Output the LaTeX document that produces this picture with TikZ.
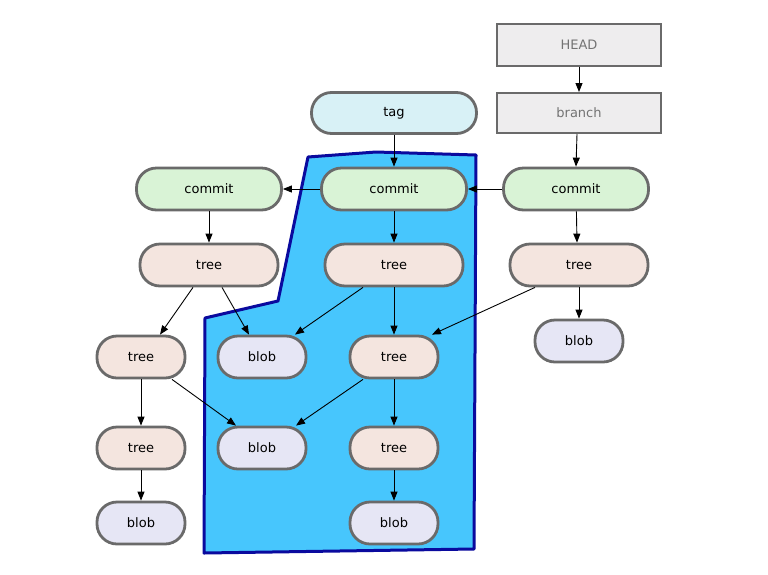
\documentclass[tikz,border=0pt]{standalone}
\usepackage{fontspec}
\setmainfont{DejaVu Sans}
\usetikzlibrary{arrows.meta}
\definecolor{cgreen}{HTML}{D9F3D6}
\definecolor{ctree}{HTML}{F4E5DF}
\definecolor{cblob}{HTML}{E6E6F5}
\definecolor{ctag}{HTML}{D8F1F6}
\definecolor{cref}{HTML}{EEEDEE}
\definecolor{cborder}{HTML}{6A6A6A}
\definecolor{cpoly}{HTML}{47C6FD}
\definecolor{cpolyb}{HTML}{0A0A9E}
\begin{document}
\begin{tikzpicture}[x=1pt,y=-1pt,
  obj/.style={draw=cborder,line width=2.8pt,rounded corners=20pt,font=\fontsize{13}{15}\selectfont,inner sep=0pt,anchor=center},
  refbox/.style={draw=cborder,line width=2pt,fill=cref,minimum width=164pt,minimum height=42pt,text=black!55,font=\fontsize{13}{15}\selectfont,inner sep=0pt},
  commitbox/.style={obj,fill=cgreen,minimum width=145pt,minimum height=42pt},
  bigtree/.style={obj,fill=ctree,minimum width=138pt,minimum height=42pt},
  smalltree/.style={obj,fill=ctree,minimum width=88pt,minimum height=42pt},
  blobbox/.style={obj,fill=cblob,minimum width=88pt,minimum height=42pt},
  tagbox/.style={obj,fill=ctag,minimum width=165pt,minimum height=41pt},
  arr/.style={-{Triangle[length=9pt,width=7pt]},line width=0.9pt,black}]
\useasboundingbox (0,0) rectangle (768,574);
\fill[white] (0,0) rectangle (768,574);
% highlighted region
\draw[fill=cpoly,draw=cpolyb,line width=3pt,line join=round]
  (308,157) -- (376,152) -- (476,155) -- (474,549) -- (204,553) -- (205,318) -- (278,301) -- cycle;
% nodes
\node[refbox] (head) at (579,44.5) {HEAD};
\node[refbox,minimum height=40pt] (branch) at (579,113) {branch};
\node[tagbox] (tag) at (394,113) {tag};
\node[commitbox] (cL) at (209,189) {commit};
\node[commitbox] (cM) at (394,189) {commit};
\node[commitbox] (cR) at (576,189) {commit};
\node[bigtree] (tL) at (209,265) {tree};
\node[bigtree] (tM) at (394,265) {tree};
\node[bigtree] (tR) at (579,265) {tree};
\node[smalltree] (tA) at (141,357) {tree};
\node[blobbox] (bA) at (262,357) {blob};
\node[smalltree] (tB) at (394,357) {tree};
\node[blobbox] (bR) at (579,341) {blob};
\node[smalltree] (tC) at (141,448) {tree};
\node[blobbox] (bB) at (262,448) {blob};
\node[smalltree] (tD) at (394,448) {tree};
\node[blobbox] (bC) at (141,523) {blob};
\node[blobbox] (bD) at (394,523) {blob};
% connectors
\draw[arr] (head) -- (branch);
\draw[arr] ([xshift=-2pt]branch.south) -- (cR.north);
\draw[arr] (tag) -- (cM);
\draw[arr] (cR) -- (cM);
\draw[arr] (cM) -- (cL);
\draw[arr] (cL) -- (tL);
\draw[arr] (cM) -- (tM);
\draw[arr] (cR) -- ([xshift=-2pt]tR.north);
\draw[arr] ([xshift=-16pt]tL.south) -- ([xshift=19pt]tA.north);
\draw[arr] ([xshift=13pt]tL.south) -- ([xshift=-13pt]bA.north);
\draw[arr] ([xshift=-31pt]tM.south) -- ([xshift=33pt]bA.north);
\draw[arr] (tM) -- (tB);
\draw[arr] ([xshift=-44pt]tR.south) -- ([xshift=38pt]tB.north);
\draw[arr] (tR) -- (bR);
\draw[arr] (tA) -- (tC);
\draw[arr] ([xshift=31pt]tA.south) -- ([xshift=-26pt]bB.north);
\draw[arr] ([xshift=-31pt]tB.south) -- ([xshift=34pt]bB.north);
\draw[arr] (tB) -- (tD);
\draw[arr] (tC) -- (bC);
\draw[arr] (tD) -- (bD);
\end{tikzpicture}
\end{document}
